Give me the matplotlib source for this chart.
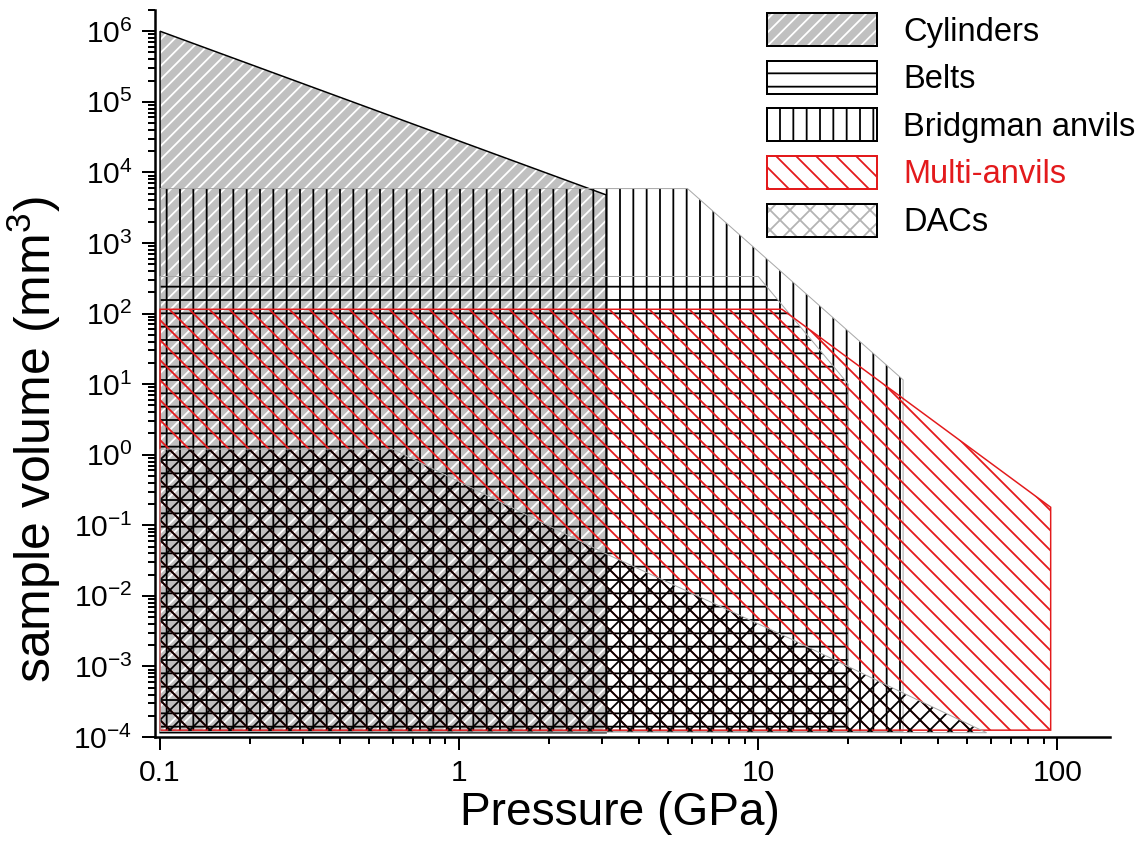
import matplotlib
matplotlib.use('Agg')
import matplotlib.pyplot as plt
from matplotlib import ticker
from matplotlib.patches import Patch
import numpy as np

# outlines of each technique: pressure (GPa) vs sample volume (mm^3)
cyl_p = [0.1, 0.1, 3.1, 3.1]
cyl_v = [1.15e-4, 1e6, 4800, 1.15e-4]

belt_p = [0.1, 0.1, 10, 20, 20]
belt_v = [1.2e-4, 335, 335, 10, 1.2e-4]

bridg_p = [0.1, 0.1, 5.8, 30.5, 30.5]
bridg_v = [1.2e-4, 5900, 5900, 11.5, 1.2e-4]

multi_p = [0.1, 0.1, 12, 95, 95]
multi_v = [1.25e-4, 115, 115, 0.18, 1.25e-4]

dac_p = [0.1, 0.1, 0.6, 3, 13, 28, 58]
dac_v = [1.2e-4, 1.2, 1.2, 0.042, 0.0024, 5e-4, 1.15e-4]

labels = ['Cylinders', 'Belts', 'Bridgman anvils', 'Multi-anvils', 'DACs']

DPI = 240
PT = 72 / DPI  # points per pixel
RED = '#e31a1c'
GREY = '#c0c0c0'

plt.rcParams['font.family'] = ['Liberation Sans', 'DejaVu Sans']
plt.rcParams['mathtext.fontset'] = 'custom'
plt.rcParams['mathtext.rm'] = 'Liberation Sans'
plt.rcParams['mathtext.it'] = 'Liberation Sans:italic'
plt.rcParams['mathtext.bf'] = 'Liberation Sans:bold'
plt.rcParams['hatch.linewidth'] = 1.8 * PT

fig = plt.figure(figsize=(1143 / DPI, 849 / DPI), dpi=DPI)
ax = fig.add_axes([154.5 / 1143, (849 - 737) / 849, (1110 - 154.5) / 1143, (737 - 10) / 849])

# cylinders: grey with white hatch, black outline
ax.fill(cyl_p, cyl_v, facecolor=GREY, edgecolor='white', lw=0, hatch='//////', zorder=1)
ax.fill(cyl_p, cyl_v, fill=False, edgecolor='black', lw=1.5 * PT, zorder=1.1)
# bridgman anvils: vertical hatch
ax.fill(bridg_p, bridg_v, fill=False, edgecolor='black', lw=0, hatch='|||', zorder=2)
ax.fill(bridg_p, bridg_v, fill=False, edgecolor='#a8a8a8', lw=1.0 * PT, zorder=2.1)
# belts: horizontal hatch
ax.fill(belt_p, belt_v, fill=False, edgecolor='black', lw=0, hatch='---', zorder=3)
ax.fill(belt_p, belt_v, fill=False, edgecolor='#a8a8a8', lw=1.0 * PT, zorder=3.1)
# multi-anvils: red
ax.fill(multi_p, multi_v, fill=False, edgecolor=RED, lw=1.5 * PT, hatch='\\\\\\\\', zorder=4)
# DACs: cross hatch
ax.fill(dac_p, dac_v, fill=False, edgecolor='black', lw=0, hatch='xxxx', zorder=5)
ax.fill(dac_p, dac_v, fill=False, edgecolor='#a8a8a8', lw=1.0 * PT, zorder=5.1)

ax.set_xscale('log')
ax.set_yscale('log')
ax.set_xlim(0.0958, 150)
ax.set_ylim(1e-4, 2e6)

ax.xaxis.set_major_locator(ticker.LogLocator(base=10, numticks=20))
ax.xaxis.set_major_formatter(ticker.FuncFormatter(lambda v, _: f'{v:g}'))
ax.xaxis.set_minor_locator(ticker.LogLocator(base=10, subs=np.arange(2, 10), numticks=100))
ax.xaxis.set_minor_formatter(ticker.NullFormatter())
ax.yaxis.set_major_locator(ticker.LogLocator(base=10, numticks=30))
ax.yaxis.set_minor_locator(ticker.LogLocator(base=10, subs=np.arange(2, 10), numticks=100))
ax.yaxis.set_minor_formatter(ticker.NullFormatter())

for s in ['top', 'right']:
    ax.spines[s].set_visible(False)
for s in ['left', 'bottom']:
    ax.spines[s].set_linewidth(2.5 * PT)

ax.tick_params(which='major', direction='out', length=13 * PT, width=2 * PT, labelsize=9)
ax.tick_params(which='minor', direction='out', length=7 * PT, width=2 * PT)
ax.tick_params(axis='x', which='major', pad=2.8)
ax.tick_params(axis='y', which='major', pad=2.7)

ax.set_xlabel('Pressure (GPa)', fontsize=13.8)
ax.xaxis.set_label_coords((620 - 154.5) / 955.5, (737 - 791) / 727)
ax.set_ylabel('sample volume (mm$^3$)', fontsize=15)
ax.yaxis.set_label_coords((63 - 154.5) / 955.5, (737 - 440) / 727)

# legend
handles = [
    (Patch(facecolor=GREY, edgecolor='white', lw=0, hatch='//////'),
     Patch(fill=False, edgecolor='black', lw=2 * PT)),
    Patch(facecolor='white', edgecolor='black', lw=2 * PT, hatch='---'),
    Patch(facecolor='white', edgecolor='black', lw=2 * PT, hatch='|||'),
    Patch(facecolor='white', edgecolor=RED, lw=2 * PT, hatch='\\\\\\\\'),
    (Patch(facecolor='white', edgecolor='#b4b4b4', lw=0, hatch='xxxx'),
     Patch(fill=False, edgecolor='black', lw=2 * PT)),
]
leg = ax.legend(handles, labels,
                loc='upper left', bbox_to_anchor=(767 / 1143, 1 - 13 / 849),
                bbox_transform=fig.transFigure, frameon=False, fontsize=9.8,
                handlelength=3.37, handleheight=1.18, handletextpad=0.8,
                labelspacing=0.4, borderpad=0, borderaxespad=0)
leg.get_texts()[3].set_color(RED)

fig.savefig('out.png', dpi=DPI)
